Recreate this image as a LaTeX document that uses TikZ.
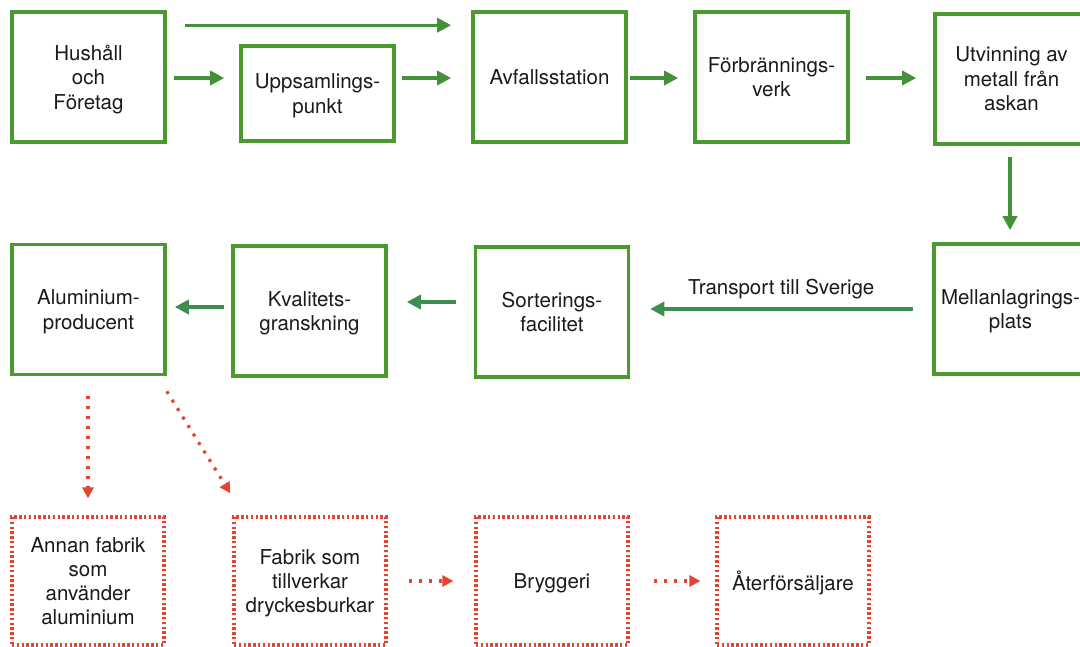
\documentclass[tikz,border=0pt]{standalone}
\usepackage{fontspec}
\setmainfont{TeX Gyre Heros}
\usetikzlibrary{arrows.meta,calc}
\definecolor{gbox}{HTML}{4A9A30}
\definecolor{garr}{HTML}{43923A}
\definecolor{garrb}{HTML}{3D8C50}
\definecolor{rdot}{HTML}{E54530}
\definecolor{txt}{HTML}{1A1A1A}
\begin{document}
\begin{tikzpicture}[x=1pt,y=-1pt,
  gnode/.style={draw=gbox,line width=3.6pt,minimum width=153pt,minimum height=130pt,
    align=center,text=txt,font=\fontsize{20.5}{24.5}\selectfont,inner sep=0pt,text depth=0pt},
  rnode/.style={draw=rdot,line width=3.2pt,dash pattern=on 2.4pt off 2.4pt,
    minimum width=152pt,minimum height=128pt,
    align=center,text=txt,font=\fontsize{20.5}{24}\selectfont,inner sep=0pt,text depth=0pt},
  garrow/.style={draw=garr,line width=3.4pt,-{Triangle[length=14pt,width=14pt]}},
  garrowb/.style={draw=garrb,line width=3.4pt,-{Triangle[length=14pt,width=14pt]}},
  rarrow/.style={draw=rdot,line width=3.2pt,dash pattern=on 3pt off 7pt,
    -{Triangle[length=11pt,width=11pt]}},
  lbl/.style={text=txt,font=\fontsize{20.5}{24}\selectfont,inner sep=0pt}
]
\useasboundingbox (0,0) rectangle (1080,646);
\clip (0,0) rectangle (1080,646);
\fill[white] (0,0) rectangle (1080,646);

% Row 1
\node[gnode] (hus) at (88.5,77) {Hushåll\\och\\Företag};
\node[gnode,minimum height=95pt] (upp) at (317.5,93.5) {Uppsamlings-\\punkt};
\node[gnode] (avf) at (549.5,77) {Avfallsstation};
\node[gnode] (for) at (771.5,77) {Förbrännings-\\verk};
\node[gnode] (utv) at (1011.5,79) {Utvinning av\\metall från\\askan};

% Row 2
\node[gnode] (mel) at (1010.5,309) {Mellanlagrings-\\plats};
\node[gnode] (sor) at (552,312) {Sorterings-\\facilitet};
\node[gnode] (kva) at (309.5,311) {Kvalitets-\\granskning};
\node[gnode] (alu) at (88.5,309.5) {Aluminium-\\producent};

% Row 3
\node[rnode] (ann) at (88,581) {Annan fabrik\\som\\använder\\aluminium};
\node[rnode] (fab) at (310,581) {Fabrik som\\tillverkar\\dryckesburkar};
\node[rnode] (bry) at (552,581) {Bryggeri};
\node[rnode] (ate) at (793,581) {Återförsäljare};

% Row 1 arrows
\draw[garrow] ($(hus.north east)+(18,15)$) -- ($(avf.north west)+(-20,15)$);
\draw[garrow,shorten <=7pt,shorten >=15pt] ($(hus.east)+(0,1)$) -- ($(hus.east -| upp.west)+(0,1)$);
\draw[garrow,shorten <=6pt,shorten >=20pt] ($(upp.east |- avf.west)+(0,1)$) -- ($(avf.west)+(0,1)$);
\draw[garrow,shorten <=2pt,shorten >=15pt] ($(avf.east)+(0,1)$) -- ($(for.west)+(0,1)$);
\draw[garrow,shorten <=16pt,shorten >=17pt] ($(for.east)+(0,1)$) -- ($(for.east -| utv.west)+(0,1)$);
\draw[garrow,shorten <=11pt,shorten >=12pt] ($(utv.south)+(-1.5,0)$) -- ($(utv.south |- mel.north)+(-1.5,0)$);

% Row 2 arrows
\draw[garrowb,shorten <=19pt,shorten >=20pt] (mel.west) -- (mel.west -| sor.east)
  node[lbl,midway,anchor=base,yshift=15pt] {Transport till Sverige};
\draw[garrowb,shorten <=18pt,shorten >=19pt] ($(sor.west)+(0,-10)$) -- ($(sor.west -| kva.east)+(0,-10)$);
\draw[garrowb,shorten <=7pt,shorten >=8pt] ($(kva.west)+(0,-4)$) -- ($(kva.west -| alu.east)+(0,-4)$);

% Row 3 arrows
\draw[rarrow,shorten <=20pt,shorten >=17pt] ($(alu.south)+(-0.5,0)$) -- ($(alu.south |- ann.north)+(-0.5,0)$);
\draw[rarrow] ($(alu.south east)+(0,15)$) -- ($(fab.north west)+(-2,-22)$);
\draw[rarrow,shorten <=21pt,shorten >=21pt] (fab.east) -- (bry.west);
\draw[rarrow,shorten <=24pt,shorten >=15pt] (bry.east) -- (ate.west);
\end{tikzpicture}
\end{document}
